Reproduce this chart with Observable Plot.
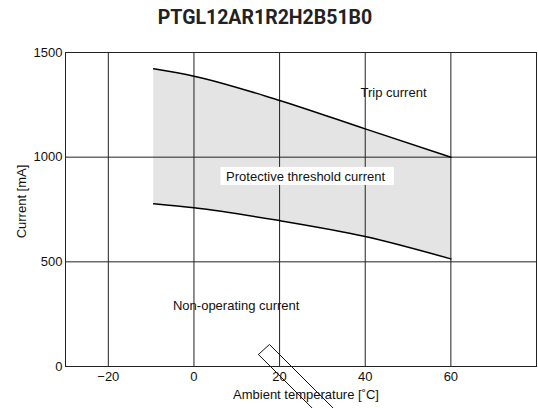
<!DOCTYPE html>
<html>
<head>
<meta charset="utf-8">
<script src="https://cdn.jsdelivr.net/npm/d3@7"></script>
<script src="https://cdn.jsdelivr.net/npm/@observablehq/plot@0.6"></script>
<style>
  html, body { margin: 0; padding: 0; background: #fff; }
  #title { height: 36px; line-height: 36px; width: 538px; font-family: Roboto, "Liberation Sans", sans-serif; font-weight: 700; font-size: 19.5px; color: #222; text-align: center; box-sizing: border-box; padding-right: 8px; }
</style>
</head>
<body>
<div id="title">PTGL12AR1R2H2B51B0</div>
<div id="chart"></div>
<script>
// Ambient temperature [°C]
const temps = [-9.4, 0, 20, 40, 60];
// Trip current [mA]
const tripCurrent = [1422, 1387, 1271, 1135, 1000];
// Non-operating current [mA]
const holdCurrent = [777, 758, 697, 621, 514];

const xTicks = [-20, 0, 20, 40, 60];
const yTicks = [0, 500, 1000, 1500];
const yGrid = [500, 1000];

const labels = [
  {text: "Trip current", x: 38.9, y: 1309},
  {text: "Non-operating current", x: -4.9, y: 289}
];
const boxedLabel = [{text: "Protective threshold current", x: 7.5, y: 908, x1: 6.3, x2: 46.8, y1: 865, y2: 951}];
// stray rotated box (annotation artifact) in data units
const strayBox = [
  {x: 15.06, y: 57.3}, {x: 17.63, y: 105.1}, {x: 34.0, y: -229}, {x: 31.45, y: -277}, {x: 15.06, y: 57.3}
];

const data = temps.map((t, i) => ({t, hi: tripCurrent[i], lo: holdCurrent[i]}));

const chart = Plot.plot({
  width: 538,
  height: 372,
  marginLeft: 65,
  marginRight: 2,
  marginTop: 16,
  marginBottom: 42,
  style: {fontFamily: "'Liberation Sans', Arial, sans-serif", fontSize: "13px", color: "#111", background: "#fff", overflow: "visible"},
  x: {domain: [-30, 80], ticks: xTicks},
  y: {domain: [0, 1500], ticks: yTicks},
  marks: [
    Plot.areaY(data, {x: "t", y1: "lo", y2: "hi", fill: "#e4e4e4", curve: "monotone-x"}),
    Plot.gridX(xTicks, {stroke: "#222", strokeOpacity: 1, strokeWidth: 1}),
    Plot.gridY(yGrid, {stroke: "#222", strokeOpacity: 1, strokeWidth: 1}),
    Plot.frame({stroke: "#222", strokeWidth: 1}),
    Plot.lineY(data, {x: "t", y: "hi", stroke: "#000", strokeWidth: 1.5, curve: "monotone-x"}),
    Plot.lineY(data, {x: "t", y: "lo", stroke: "#000", strokeWidth: 1.5, curve: "monotone-x"}),
    Plot.rect(boxedLabel, {x1: "x1", x2: "x2", y1: "y1", y2: "y2", fill: "#fff"}),
    Plot.text(boxedLabel, {x: "x", y: "y", text: "text", textAnchor: "start", fill: "#111"}),
    Plot.text(labels, {x: "x", y: "y", text: "text", textAnchor: "start", fill: "#111"}),
    Plot.axisX({ticks: xTicks, tickSize: 0, tickPadding: 5, label: null}),
    Plot.axisY({ticks: yTicks, tickSize: 0, tickPadding: 3, label: null, tickFormat: d3.format("d")}),
    Plot.text(["Current [mA]"], {frameAnchor: "left", textAnchor: "middle", lineAnchor: "middle", rotate: -90, dx: -44, dy: -8, fill: "#111"}),
    Plot.text(["Ambient temperature [˚C]"], {frameAnchor: "bottom", lineAnchor: "middle", dx: 5, dy: 28, fill: "#111"}),
    Plot.line(strayBox, {x: "x", y: "y", stroke: "#111", strokeWidth: 1, clip: false})
  ]
});
document.getElementById("chart").appendChild(chart);
</script>
</body>
</html>
